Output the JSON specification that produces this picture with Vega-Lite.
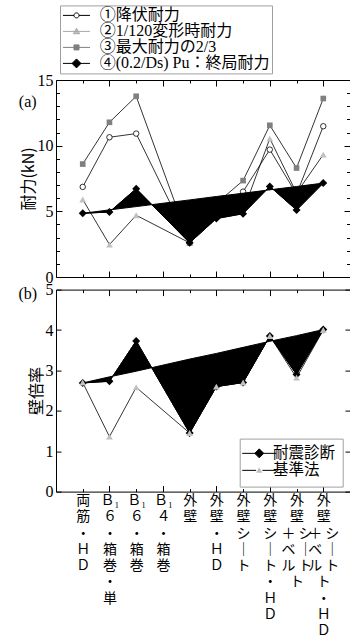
{
  "$schema": "https://vega.github.io/schema/vega-lite/v6.json",
  "padding": {"left": 17, "top": 4, "right": 2, "bottom": 0},
  "background": "white",
  "bounds": "flush",
  "spacing": 12.6,
  "resolve": {"scale": {"shape": "independent", "fill": "independent", "stroke": "independent", "color": "independent"}, "legend": {"shape": "independent", "fill": "independent", "stroke": "independent", "color": "independent"}},
  "config": {
    "view": {"stroke": "black", "strokeWidth": 1},
    "axis": {"domain": false, "grid": false, "tickColor": "black", "tickWidth": 1, "labelColor": "black", "titleColor": "black", "labelFont": "Liberation Serif", "labelFontSize": 16, "titleFont": "Noto Sans CJK JP", "titleFontSize": 16, "titleFontWeight": "normal", "labelOverlap": false, "labelFlush": false, "labelBound": false, "labelAngle": 0}
  },
  "datasets": {
    "a": [
      {"cat": "両筋・HD", "yield": 6.86, "d120": 5.9, "max23": 8.6, "pu": 4.85, "trend": 4.85},
      {"cat": "B1 6・箱巻・単", "yield": 10.64, "d120": 2.47, "max23": 11.78, "pu": 4.95, "trend": 5.11},
      {"cat": "B1 6・箱巻", "yield": 10.92, "d120": 4.7, "max23": 13.76, "pu": 6.72, "trend": 5.36},
      {"cat": "外壁", "yield": 2.6, "d120": 2.6, "max23": 2.6, "pu": 2.6, "trend": 5.87},
      {"cat": "外壁・HD", "yield": 5.0, "d120": 4.8, "max23": 5.6, "pu": 4.45, "trend": 6.13},
      {"cat": "外壁シート", "yield": 6.5, "d120": 5.0, "max23": 7.34, "pu": 4.82, "trend": 6.38},
      {"cat": "外壁シート・HD", "yield": 9.7, "d120": 10.54, "max23": 11.55, "pu": 6.9, "trend": 6.64},
      {"cat": "外壁シート+ベルト", "yield": 6.3, "d120": 6.4, "max23": 8.3, "pu": 5.1, "trend": 6.89},
      {"cat": "外壁シート+ベルト・HD", "yield": 11.48, "d120": 9.32, "max23": 13.59, "pu": 7.15, "trend": 7.15}
    ],
    "b": [
      {"cat": "両筋・HD", "eq": 2.69, "std": 2.7, "trend": 2.69},
      {"cat": "B1 6・箱巻・単", "eq": 2.73, "std": 1.36, "trend": 2.84},
      {"cat": "B1 6・箱巻", "eq": 3.73, "std": 2.58, "trend": 2.98},
      {"cat": "外壁", "eq": 1.45, "std": 1.45, "trend": 3.28},
      {"cat": "外壁・HD", "eq": 2.6, "std": 2.6, "trend": 3.42},
      {"cat": "外壁シート", "eq": 2.7, "std": 2.7, "trend": 3.57},
      {"cat": "外壁シート・HD", "eq": 3.85, "std": 3.85, "trend": 3.72},
      {"cat": "外壁シート+ベルト", "eq": 2.9, "std": 2.82, "trend": 3.86},
      {"cat": "外壁シート+ベルト・HD", "eq": 4.01, "std": 4.0, "trend": 4.01}
    ]
  },
  "vconcat": [
    {
      "width": 294,
      "height": 197,
      "data": {"name": "a"},
      "resolve": {"axis": {"x": "independent", "y": "independent"}},
      "layer": [
        {
          "mark": {"type": "line", "color": "black", "strokeWidth": 0.8},
          "encoding": {
            "x": {"field": "cat", "type": "nominal", "sort": ["両筋・HD", "B1 6・箱巻・単", "B1 6・箱巻", "B1 4・箱巻", "外壁", "外壁・HD", "外壁シート", "外壁シート・HD", "外壁シート+ベルト", "外壁シート+ベルト・HD"], "scale": {"type": "point", "padding": 1, "domain": ["両筋・HD", "B1 6・箱巻・単", "B1 6・箱巻", "B1 4・箱巻", "外壁", "外壁・HD", "外壁シート", "外壁シート・HD", "外壁シート+ベルト", "外壁シート+ベルト・HD"]},
              "axis": {"orient": "bottom", "labels": false, "title": null, "tickSize": {"condition": {"test": "indexof(['B1 6・箱巻・単','B1 4・箱巻','外壁・HD','外壁シート・HD','外壁シート+ベルト・HD'], datum.value) >= 0", "value": -6}, "value": -3}}},
            "y": {"field": "yield", "type": "quantitative", "scale": {"domain": [0, 15], "nice": false},
              "axis": {"orient": "left", "values": [0, 1, 2, 3, 4, 5, 6, 7, 8, 9, 10, 11, 12, 13, 14, 15], "labelExpr": "datum.value % 5 === 0 ? datum.label : ''", "tickSize": {"condition": {"test": "datum.value % 5 === 0", "value": -6}, "value": -3.5}, "labelPadding": 9, "title": "耐力(kN)", "titlePadding": 1}}
          }
        },
        {
          "mark": {"type": "line", "color": "black", "strokeWidth": 0.8},
          "encoding": {
            "x": {"field": "cat", "type": "nominal", "sort": ["両筋・HD", "B1 6・箱巻・単", "B1 6・箱巻", "B1 4・箱巻", "外壁", "外壁・HD", "外壁シート", "外壁シート・HD", "外壁シート+ベルト", "外壁シート+ベルト・HD"], "scale": {"type": "point", "padding": 1, "domain": ["両筋・HD", "B1 6・箱巻・単", "B1 6・箱巻", "B1 4・箱巻", "外壁", "外壁・HD", "外壁シート", "外壁シート・HD", "外壁シート+ベルト", "外壁シート+ベルト・HD"]}, "axis": null},
            "y": {"field": "d120", "type": "quantitative", "scale": {"domain": [0, 15], "nice": false}, "axis": null}
          }
        },
        {
          "mark": {"type": "line", "color": "black", "strokeWidth": 0.8},
          "encoding": {
            "x": {"field": "cat", "type": "nominal", "sort": ["両筋・HD", "B1 6・箱巻・単", "B1 6・箱巻", "B1 4・箱巻", "外壁", "外壁・HD", "外壁シート", "外壁シート・HD", "外壁シート+ベルト", "外壁シート+ベルト・HD"], "scale": {"type": "point", "padding": 1, "domain": ["両筋・HD", "B1 6・箱巻・単", "B1 6・箱巻", "B1 4・箱巻", "外壁", "外壁・HD", "外壁シート", "外壁シート・HD", "外壁シート+ベルト", "外壁シート+ベルト・HD"]}, "axis": null},
            "y": {"field": "max23", "type": "quantitative", "scale": {"domain": [0, 15], "nice": false}, "axis": null}
          }
        },
        {
          "mark": {"type": "point", "shape": "circle", "filled": false, "fill": "white", "stroke": "black", "strokeWidth": 0.8, "size": 30, "opacity": 1},
          "encoding": {
            "x": {"field": "cat", "type": "nominal", "scale": {"type": "point", "padding": 1, "domain": ["両筋・HD", "B1 6・箱巻・単", "B1 6・箱巻", "B1 4・箱巻", "外壁", "外壁・HD", "外壁シート", "外壁シート・HD", "外壁シート+ベルト", "外壁シート+ベルト・HD"]}, "axis": null},
            "y": {"field": "yield", "type": "quantitative", "scale": {"domain": [0, 15], "nice": false}, "axis": null}
          }
        },
        {
          "mark": {"type": "point", "shape": "triangle-up", "filled": true, "color": "#c0c0c0", "strokeWidth": 0, "size": 45, "opacity": 1},
          "encoding": {
            "x": {"field": "cat", "type": "nominal", "scale": {"type": "point", "padding": 1, "domain": ["両筋・HD", "B1 6・箱巻・単", "B1 6・箱巻", "B1 4・箱巻", "外壁", "外壁・HD", "外壁シート", "外壁シート・HD", "外壁シート+ベルト", "外壁シート+ベルト・HD"]}, "axis": null},
            "y": {"field": "d120", "type": "quantitative", "scale": {"domain": [0, 15], "nice": false}, "axis": null}
          }
        },
        {
          "mark": {"type": "point", "shape": "square", "filled": true, "color": "#808080", "strokeWidth": 0, "size": 32, "opacity": 1},
          "encoding": {
            "x": {"field": "cat", "type": "nominal", "scale": {"type": "point", "padding": 1, "domain": ["両筋・HD", "B1 6・箱巻・単", "B1 6・箱巻", "B1 4・箱巻", "外壁", "外壁・HD", "外壁シート", "外壁シート・HD", "外壁シート+ベルト", "外壁シート+ベルト・HD"]}, "axis": null},
            "y": {"field": "max23", "type": "quantitative", "scale": {"domain": [0, 15], "nice": false}, "axis": null}
          }
        },
        {
          "mark": {"type": "area", "color": "black", "stroke": "black", "strokeWidth": 1, "opacity": 1},
          "encoding": {
            "x": {"field": "cat", "type": "nominal", "sort": ["両筋・HD", "B1 6・箱巻・単", "B1 6・箱巻", "B1 4・箱巻", "外壁", "外壁・HD", "外壁シート", "外壁シート・HD", "外壁シート+ベルト", "外壁シート+ベルト・HD"], "scale": {"type": "point", "padding": 1, "domain": ["両筋・HD", "B1 6・箱巻・単", "B1 6・箱巻", "B1 4・箱巻", "外壁", "外壁・HD", "外壁シート", "外壁シート・HD", "外壁シート+ベルト", "外壁シート+ベルト・HD"]}, "axis": null},
            "y": {"field": "trend", "type": "quantitative", "scale": {"domain": [0, 15], "nice": false}, "axis": null},
            "y2": {"field": "pu"}
          }
        },
        {
          "mark": {"type": "line", "color": "black", "strokeWidth": 1},
          "encoding": {
            "x": {"field": "cat", "type": "nominal", "sort": ["両筋・HD", "B1 6・箱巻・単", "B1 6・箱巻", "B1 4・箱巻", "外壁", "外壁・HD", "外壁シート", "外壁シート・HD", "外壁シート+ベルト", "外壁シート+ベルト・HD"], "scale": {"type": "point", "padding": 1, "domain": ["両筋・HD", "B1 6・箱巻・単", "B1 6・箱巻", "B1 4・箱巻", "外壁", "外壁・HD", "外壁シート", "外壁シート・HD", "外壁シート+ベルト", "外壁シート+ベルト・HD"]}, "axis": null},
            "y": {"field": "pu", "type": "quantitative", "scale": {"domain": [0, 15], "nice": false}, "axis": null}
          }
        },
        {
          "mark": {"type": "point", "shape": "diamond", "filled": true, "color": "black", "strokeWidth": 0, "size": 64, "opacity": 1},
          "encoding": {
            "x": {"field": "cat", "type": "nominal", "scale": {"type": "point", "padding": 1, "domain": ["両筋・HD", "B1 6・箱巻・単", "B1 6・箱巻", "B1 4・箱巻", "外壁", "外壁・HD", "外壁シート", "外壁シート・HD", "外壁シート+ベルト", "外壁シート+ベルト・HD"]},
              "axis": {"orient": "top", "labels": false, "title": null, "tickSize": {"condition": {"test": "indexof(['B1 6・箱巻・単','B1 4・箱巻','外壁・HD','外壁シート・HD','外壁シート+ベルト・HD'], datum.value) >= 0", "value": -6}, "value": -3}}},
            "y": {"field": "pu", "type": "quantitative", "scale": {"domain": [0, 15], "nice": false},
              "axis": {"orient": "right", "labels": false, "title": null, "values": [0, 1, 2, 3, 4, 5, 6, 7, 8, 9, 10, 11, 12, 13, 14, 15], "tickSize": {"condition": {"test": "datum.value % 5 === 0", "value": -6}, "value": -3.5}}}
          }
        },
        {
          "data": {"values": [{"label": "(a)"}]},
          "mark": {"type": "text", "font": "Liberation Serif", "fontSize": 16, "dx": -55, "align": "center", "baseline": "middle", "color": "black"},
          "encoding": {
            "x": {"datum": "両筋・HD", "type": "nominal", "scale": {"type": "point", "padding": 1, "domain": ["両筋・HD", "B1 6・箱巻・単", "B1 6・箱巻", "B1 4・箱巻", "外壁", "外壁・HD", "外壁シート", "外壁シート・HD", "外壁シート+ベルト", "外壁シート+ベルト・HD"]}, "axis": null},
            "y": {"datum": 13.3, "type": "quantitative", "scale": {"domain": [0, 15], "nice": false}, "axis": null},
            "text": {"field": "label"}
          }
        },
        {
          "transform": [{"filter": "false"}],
          "mark": {"type": "point", "filled": true, "opacity": 1},
          "encoding": {
            "shape": {"field": "series", "type": "nominal",
              "scale": {"domain": ["①降伏耐力", "②1/120変形時耐力", "③最大耐力の2/3", "④(0.2/Ds) Pu：終局耐力"], "range": ["M-1.93,0H-0.36M0.36,0H1.93M0.36,0A0.36,0.36,0,1,1,-0.36,0A0.36,0.36,0,1,1,0.36,0Z", "M-1.93,0H1.93M0,-0.45L0.45,0.33L-0.45,0.33Z", "M-1.93,0H1.93M-0.36,-0.36H0.36V0.36H-0.36Z", "M-1.93,0H1.93M0,-0.64L0.64,0L0,0.64L-0.64,0Z"]},
              "legend": {"orient": "none", "legendX": 4, "legendY": -74.6, "title": null, "symbolSize": 196, "symbolStrokeWidth": 1, "labelFont": "Liberation Serif, Noto Sans CJK JP", "labelFontSize": 16, "labelColor": "black", "padding": 2, "rowPadding": 0, "symbolOffset": 6.5, "labelOffset": 15.2, "strokeColor": "#a0a0a0", "fillColor": "white", "labelLimit": 0}},
            "fill": {"field": "series", "type": "nominal",
              "scale": {"domain": ["①降伏耐力", "②1/120変形時耐力", "③最大耐力の2/3", "④(0.2/Ds) Pu：終局耐力"], "range": ["white", "#c0c0c0", "#808080", "black"]},
              "legend": {"orient": "none", "legendX": 4, "legendY": -74.6, "title": null, "symbolSize": 196, "symbolStrokeWidth": 1, "labelFont": "Liberation Serif, Noto Sans CJK JP", "labelFontSize": 16, "labelColor": "black", "padding": 2, "rowPadding": 0, "symbolOffset": 6.5, "labelOffset": 15.2, "strokeColor": "#a0a0a0", "fillColor": "white", "labelLimit": 0}},
            "stroke": {"field": "series", "type": "nominal",
              "scale": {"domain": ["①降伏耐力", "②1/120変形時耐力", "③最大耐力の2/3", "④(0.2/Ds) Pu：終局耐力"], "range": ["black", "#a8a8a8", "#808080", "black"]},
              "legend": {"orient": "none", "legendX": 4, "legendY": -74.6, "title": null, "symbolSize": 196, "symbolStrokeWidth": 1, "labelFont": "Liberation Serif, Noto Sans CJK JP", "labelFontSize": 16, "labelColor": "black", "padding": 2, "rowPadding": 0, "symbolOffset": 6.5, "labelOffset": 15.2, "strokeColor": "#a0a0a0", "fillColor": "white", "labelLimit": 0}}
          }
        }
      ]
    },
    {
      "width": 294,
      "height": 202,
      "data": {"name": "b"},
      "resolve": {"axis": {"x": "independent", "y": "independent"}},
      "layer": [
        {
          "mark": {"type": "area", "color": "black", "stroke": "black", "strokeWidth": 1, "opacity": 1},
          "encoding": {
            "x": {"field": "cat", "type": "nominal", "sort": ["両筋・HD", "B1 6・箱巻・単", "B1 6・箱巻", "B1 4・箱巻", "外壁", "外壁・HD", "外壁シート", "外壁シート・HD", "外壁シート+ベルト", "外壁シート+ベルト・HD"], "scale": {"type": "point", "padding": 1, "domain": ["両筋・HD", "B1 6・箱巻・単", "B1 6・箱巻", "B1 4・箱巻", "外壁", "外壁・HD", "外壁シート", "外壁シート・HD", "外壁シート+ベルト", "外壁シート+ベルト・HD"]},
              "axis": {"orient": "bottom", "title": null, "labelAngle": 0, "labelAlign": "center", "labelBaseline": "top", "labelFont": "Noto Sans CJK JP", "labelFontSize": 14, "labelLineHeight": 16.25, "labelLimit": 0,
                "labelPadding": {"condition": {"test": "indexof(['B1 6・箱巻・単','B1 4・箱巻','外壁・HD','外壁シート・HD','外壁シート+ベルト・HD'], datum.value) >= 0", "value": 8}, "value": 5},
                "tickSize": {"condition": {"test": "indexof(['B1 6・箱巻・単','B1 4・箱巻','外壁・HD','外壁シート・HD','外壁シート+ベルト・HD'], datum.value) >= 0", "value": -6}, "value": -3},
                "labelExpr": "datum.value === '両筋・HD' ? ['両','筋','・','Ｈ','Ｄ'] : datum.value === 'B1 6・箱巻・単' ? ['\u00a0Ｂ₁','６','・','箱','巻','・','単'] : datum.value === 'B1 6・箱巻' ? ['\u00a0Ｂ₁','６','・','箱','巻'] : datum.value === 'B1 4・箱巻' ? ['\u00a0Ｂ₁','４','・','箱','巻'] : datum.value === '外壁' ? ['外','壁'] : datum.value === '外壁・HD' ? ['外','壁','・','Ｈ','Ｄ'] : datum.value === '外壁シート' ? ['外','壁','シ','｜','ト'] : datum.value === '外壁シート・HD' ? ['外','壁','シ','｜','ト','・','Ｈ','Ｄ'] : datum.value === '外壁シート+ベルト' ? ['　 外','　 壁','＋ シ','ベ ｜','ル ト','ト 　'] : ['　 外','　 壁','＋ シ','ベ ｜','ル ト','ト 　','・ 　','Ｈ 　','Ｄ 　']"}},
            "y": {"field": "trend", "type": "quantitative", "scale": {"domain": [0, 5], "nice": false},
              "axis": {"orient": "left", "values": [0, 1, 2, 3, 4, 5], "tickSize": -5, "labelPadding": 8, "title": "壁倍率", "titlePadding": 1}},
            "y2": {"field": "eq"}
          }
        },
        {
          "mark": {"type": "line", "color": "black", "strokeWidth": 0.8},
          "encoding": {
            "x": {"field": "cat", "type": "nominal", "sort": ["両筋・HD", "B1 6・箱巻・単", "B1 6・箱巻", "B1 4・箱巻", "外壁", "外壁・HD", "外壁シート", "外壁シート・HD", "外壁シート+ベルト", "外壁シート+ベルト・HD"], "scale": {"type": "point", "padding": 1, "domain": ["両筋・HD", "B1 6・箱巻・単", "B1 6・箱巻", "B1 4・箱巻", "外壁", "外壁・HD", "外壁シート", "外壁シート・HD", "外壁シート+ベルト", "外壁シート+ベルト・HD"]}, "axis": null},
            "y": {"field": "std", "type": "quantitative", "scale": {"domain": [0, 5], "nice": false}, "axis": null}
          }
        },
        {
          "mark": {"type": "line", "color": "black", "strokeWidth": 1},
          "encoding": {
            "x": {"field": "cat", "type": "nominal", "sort": ["両筋・HD", "B1 6・箱巻・単", "B1 6・箱巻", "B1 4・箱巻", "外壁", "外壁・HD", "外壁シート", "外壁シート・HD", "外壁シート+ベルト", "外壁シート+ベルト・HD"], "scale": {"type": "point", "padding": 1, "domain": ["両筋・HD", "B1 6・箱巻・単", "B1 6・箱巻", "B1 4・箱巻", "外壁", "外壁・HD", "外壁シート", "外壁シート・HD", "外壁シート+ベルト", "外壁シート+ベルト・HD"]}, "axis": null},
            "y": {"field": "eq", "type": "quantitative", "scale": {"domain": [0, 5], "nice": false}, "axis": null}
          }
        },
        {
          "mark": {"type": "point", "shape": "diamond", "filled": true, "color": "black", "strokeWidth": 0, "size": 64, "opacity": 1},
          "encoding": {
            "x": {"field": "cat", "type": "nominal", "scale": {"type": "point", "padding": 1, "domain": ["両筋・HD", "B1 6・箱巻・単", "B1 6・箱巻", "B1 4・箱巻", "外壁", "外壁・HD", "外壁シート", "外壁シート・HD", "外壁シート+ベルト", "外壁シート+ベルト・HD"]}, "axis": null},
            "y": {"field": "eq", "type": "quantitative", "scale": {"domain": [0, 5], "nice": false}, "axis": null}
          }
        },
        {
          "mark": {"type": "point", "shape": "triangle-up", "filled": true, "color": "#c0c0c0", "strokeWidth": 0, "size": 45, "opacity": 1},
          "encoding": {
            "x": {"field": "cat", "type": "nominal", "scale": {"type": "point", "padding": 1, "domain": ["両筋・HD", "B1 6・箱巻・単", "B1 6・箱巻", "B1 4・箱巻", "外壁", "外壁・HD", "外壁シート", "外壁シート・HD", "外壁シート+ベルト", "外壁シート+ベルト・HD"]},
              "axis": {"orient": "top", "labels": false, "title": null, "tickSize": {"condition": {"test": "indexof(['B1 6・箱巻・単','B1 4・箱巻','外壁・HD','外壁シート・HD','外壁シート+ベルト・HD'], datum.value) >= 0", "value": -6}, "value": -3}}},
            "y": {"field": "std", "type": "quantitative", "scale": {"domain": [0, 5], "nice": false},
              "axis": {"orient": "right", "labels": false, "title": null, "values": [0, 1, 2, 3, 4, 5], "tickSize": -5}}
          }
        },
        {
          "data": {"values": [{"label": "(b)"}]},
          "mark": {"type": "text", "font": "Liberation Serif", "fontSize": 16, "dx": -55, "align": "center", "baseline": "middle", "color": "black"},
          "encoding": {
            "x": {"datum": "両筋・HD", "type": "nominal", "scale": {"type": "point", "padding": 1, "domain": ["両筋・HD", "B1 6・箱巻・単", "B1 6・箱巻", "B1 4・箱巻", "外壁", "外壁・HD", "外壁シート", "外壁シート・HD", "外壁シート+ベルト", "外壁シート+ベルト・HD"]}, "axis": null},
            "y": {"datum": 4.88, "type": "quantitative", "scale": {"domain": [0, 5], "nice": false}, "axis": null},
            "text": {"field": "label"}
          }
        },
        {
          "transform": [{"filter": "false"}],
          "mark": {"type": "point", "filled": true, "opacity": 1},
          "encoding": {
            "shape": {"field": "series", "type": "nominal",
              "scale": {"domain": ["耐震診断", "基準法"], "range": ["M-2.43,0H2.43M0,-0.64L0.64,0L0,0.64L-0.64,0Z", "M-2.43,0H-0.45M0.45,0H2.43"]},
              "legend": {"orient": "none", "legendX": 183.7, "legendY": 149, "title": null, "symbolSize": 196, "symbolStrokeWidth": 1, "labelFont": "Noto Sans CJK JP", "labelFontSize": 15.5, "labelColor": "black", "padding": 7, "rowPadding": 0, "symbolOffset": 4.8, "labelOffset": 6, "strokeColor": "#a0a0a0", "fillColor": "white", "labelLimit": 0, "zindex": 1}},
            "fill": {"field": "series", "type": "nominal",
              "scale": {"domain": ["耐震診断", "基準法"], "range": ["black", "black"]},
              "legend": {"orient": "none", "legendX": 183.7, "legendY": 149, "title": null, "symbolSize": 196, "symbolStrokeWidth": 1, "labelFont": "Noto Sans CJK JP", "labelFontSize": 15.5, "labelColor": "black", "padding": 7, "rowPadding": 0, "symbolOffset": 4.8, "labelOffset": 6, "strokeColor": "#a0a0a0", "fillColor": "white", "labelLimit": 0, "zindex": 1}},
            "stroke": {"field": "series", "type": "nominal",
              "scale": {"domain": ["耐震診断", "基準法"], "range": ["black", "black"]},
              "legend": {"orient": "none", "legendX": 183.7, "legendY": 149, "title": null, "symbolSize": 196, "symbolStrokeWidth": 1, "labelFont": "Noto Sans CJK JP", "labelFontSize": 15.5, "labelColor": "black", "padding": 7, "rowPadding": 0, "symbolOffset": 4.8, "labelOffset": 6, "strokeColor": "#a0a0a0", "fillColor": "white", "labelLimit": 0, "zindex": 1}}
          }
        },
        {
          "transform": [{"filter": "false"}],
          "mark": {"type": "point", "filled": true, "opacity": 1, "shape": "M0,-0.45L0.45,0.33L-0.45,0.33Z", "strokeWidth": 0},
          "encoding": {
            "color": {"field": "series2", "type": "nominal",
              "scale": {"domain": ["耐震診断（印）", "基準法（印）"], "range": ["transparent", "#c0c0c0"]},
              "legend": {"orient": "none", "legendX": 183.7, "legendY": 149, "title": null, "symbolSize": 196, "symbolStrokeWidth": 0, "symbolType": "M0,-0.45L0.45,0.33L-0.45,0.33Z", "labelFont": "Noto Sans CJK JP", "labelFontSize": 15.5, "labelExpr": "''", "padding": 7, "rowPadding": 0, "symbolOffset": 4.8, "labelOffset": 6, "labelLimit": 0, "zindex": 2}}
          }
        }
      ]
    }
  ]
}
